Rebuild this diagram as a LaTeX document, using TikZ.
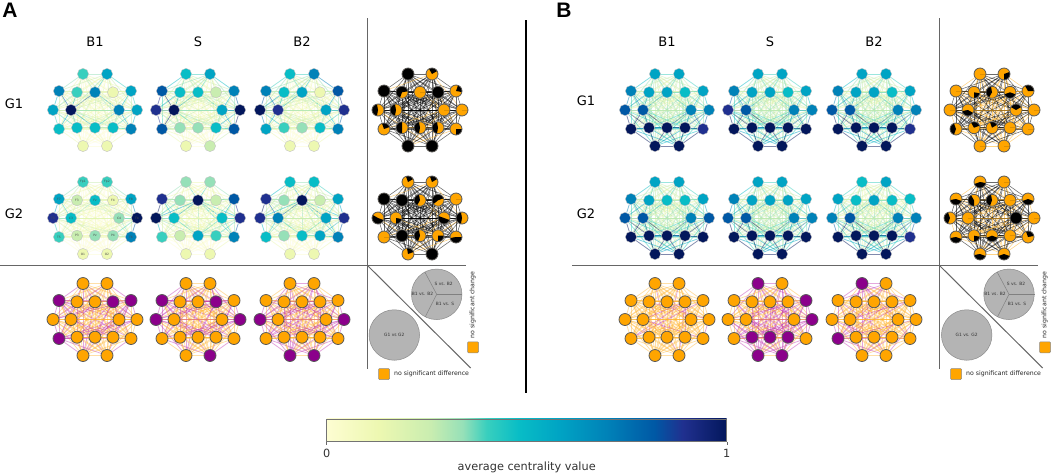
\documentclass[tikz,border=0pt]{standalone}
\usepackage{fontspec}
\setmainfont{DejaVu Sans}
\newfontfamily\hdfont{Liberation Sans}
\usetikzlibrary{backgrounds}
\definecolor{lev0}{HTML}{FDFDD2}
\definecolor{lev1}{HTML}{EDF8B1}
\definecolor{lev2}{HTML}{C9EDB0}
\definecolor{lev3}{HTML}{96E0B8}
\definecolor{lev4}{HTML}{38CFBE}
\definecolor{lev5}{HTML}{08BDC6}
\definecolor{lev6}{HTML}{00A4C4}
\definecolor{lev7}{HTML}{0082B8}
\definecolor{lev8}{HTML}{0058A5}
\definecolor{lev9}{HTML}{20308F}
\definecolor{lev10}{HTML}{03175C}
\definecolor{nodeO}{HTML}{FFA500}
\definecolor{nodeP}{HTML}{8B008B}
\definecolor{edgeO}{HTML}{FFB52E}
\definecolor{edgeP}{HTML}{C030B0}
\definecolor{rulegray}{HTML}{666666}
\definecolor{diskgray}{HTML}{B4B4B4}
\foreach \xx/\yy [count=\n] in {-120/-360,120/-360,-360/-190,-180/-177,0/-177,180/-177,360/-190,-420/0,-240/0,240/0,420/0,-360/190,-180/177,0/177,180/177,360/190,-120/360,120/360}{%
  \expandafter\xdef\csname xo\n\endcsname{\xx}%
  \expandafter\xdef\csname yo\n\endcsname{\yy}%
}
\tikzset{
  heatnode/.style={circle,inner sep=0pt,minimum size=11.2pt,draw=black!25,line width=.35pt},
  ornode/.style={circle,inner sep=0pt,minimum size=12pt,draw=black!65,line width=.8pt},
  heatedge/.style={line width=.75pt,opacity=.5},
  binedge/.style={line width=.55pt,opacity=.58},
  chanedge/.style={line width=.8pt,opacity=.42},
  rulegrayline/.style={draw=rulegray,line width=1pt},
  tinylab/.style={inner sep=0pt,font=\fontsize{3}{3}\selectfont,text=black!70},
  disk/.style={circle,draw=black!45,fill=diskgray,line width=.5pt,inner sep=0pt,minimum size=50.5pt},
  disklab/.style={inner sep=0pt,font=\fontsize{4.4}{5}\selectfont,text=black!80},
  colhead/.style={inner sep=0pt,font=\fontsize{13}{15}\selectfont},
  panelhead/.style={inner sep=0pt,font=\hdfont\bfseries\fontsize{21}{23}\selectfont},
  keybox/.style={draw=black!45,fill=nodeO,rounded corners=1pt,line width=.5pt,minimum size=11pt,inner sep=0pt},
  keylab/.style={inner sep=0pt,font=\fontsize{6.2}{7}\selectfont,text=black!85},
  cbarlab/.style={inner sep=0pt,font=\fontsize{11.3}{13}\selectfont,text=black!80},
}
\newcommand\jstart[1]{\the\numexpr#1+1\relax}
\newcommand\distsq[2]{\the\numexpr(\csname xo#1\endcsname-\csname xo#2\endcsname)*(\csname xo#1\endcsname-\csname xo#2\endcsname)+(\csname yo#1\endcsname-\csname yo#2\endcsname)*(\csname yo#1\endcsname-\csname yo#2\endcsname)\relax}
% heat network: name, cx, cy, 18 levels
\newcommand\heatnet[4]{%
  \foreach \vv [count=\n] in {#4}{%
    \node[heatnode,fill=lev\vv] (#1n\n) at ({#2+\csname xo\n\endcsname/10},{#3+\csname yo\n\endcsname/10}) {};
    \expandafter\xdef\csname val#1\n\endcsname{\vv}%
  }
  \begin{scope}[on background layer]
  \foreach \i in {1,...,17}{%
    \edef\jf{\jstart{\i}}%
    \foreach \j in {\jf,...,18}{%
      \edef\dd{\distsq{\i}{\j}}%
      \ifnum\dd<90000 \def\kk{120}\else\ifnum\dd<302500 \def\kk{55}\else\def\kk{28}\fi\fi
      \edef\lv{\the\numexpr\csname val#1\i\endcsname*\csname val#1\j\endcsname*\kk/1000\relax}%
      \ifnum\lv>10 \def\lv{10}\fi
      \draw[heatedge,draw=lev\lv] (#1n\i) -- (#1n\j);
    }%
  }
  \end{scope}
}
% pie network: name, cx, cy, percent black edges, wedges
\newcommand\pienet[5]{%
  \foreach \aa/\bb [count=\n] in {#5}{%
    \node[ornode,fill=nodeO,path picture={\fill[black] (path picture bounding box.center) -- +(\aa:7pt) arc[start angle=\aa,end angle=\bb,radius=7pt] -- cycle;}] (#1n\n) at ({#2+\csname xo\n\endcsname/10},{#3+\csname yo\n\endcsname/10}) {};
  }
  \begin{scope}[on background layer]
  \foreach \i in {1,...,17}{%
    \edef\jf{\jstart{\i}}%
    \foreach \j in {\jf,...,18}{%
      \pgfmathtruncatemacro\rr{mod(\i*\i*7+\j*31+\i*\j*3+#2*3,100)}%
      \ifnum\rr<#4 \def\ec{black}\else\def\ec{edgeO}\fi
      \draw[binedge,draw=\ec] (#1n\i) -- (#1n\j);
    }%
  }
  \end{scope}
}
% change network: name, cx, cy, percent random magenta edges, O/P letters
\newcommand\chnet[5]{%
  \foreach \vv [count=\n] in {#5}{%
    \node[ornode,fill=node\vv] (#1n\n) at ({#2+\csname xo\n\endcsname/10},{#3+\csname yo\n\endcsname/10}) {};
    \expandafter\xdef\csname val#1\n\endcsname{\vv}%
  }
  \begin{scope}[on background layer]
  \foreach \i in {1,...,17}{%
    \edef\jf{\jstart{\i}}%
    \foreach \j in {\jf,...,18}{%
      \pgfmathtruncatemacro\rr{mod(\i*\i*11+\j*37+\i*\j*5+#2*3,100)}%
      \def\ec{edgeO}%
      \ifnum\rr<#4 \def\ec{edgeP}\fi
      \if P\csname val#1\i\endcsname \ifnum\rr<60 \def\ec{edgeP}\fi\fi
      \if P\csname val#1\j\endcsname \ifnum\rr<60 \def\ec{edgeP}\fi\fi
      \draw[chanedge,draw=\ec] (#1n\i) -- (#1n\j);
    }%
  }
  \end{scope}
}
\pgfdeclarehorizontalshading{cbarshade}{100bp}{
  color(0bp)=(lev0); color(25bp)=(lev0); color(31.5bp)=(lev1); color(38bp)=(lev2);
  color(42bp)=(lev3); color(45bp)=(lev4); color(49bp)=(lev5); color(54bp)=(lev6);
  color(60bp)=(lev7); color(66bp)=(lev8); color(69.5bp)=(lev9); color(75bp)=(lev10); color(100bp)=(lev10)}
\begin{document}
\begin{tikzpicture}[x=1pt,y=-1pt]
\useasboundingbox (0,0) rectangle (1052,475);
\begin{scope}[on background layer]
\fill[white] (0,0) rectangle (1052,475);
\end{scope}
% panel letters and headers
\node[panelhead] (la) at (10,10) {A};
\node[panelhead] (lb) at (564,10) {B};
\foreach \xc/\t/\s in {95/B1/a,198/S/b,302/B2/c,667/B1/d,770/S/e,874/B2/f}{\node[colhead] (h\s) at (\xc,42) {\t};}
\node[colhead] (ga1) at (14,104) {G1};
\node[colhead] (ga2) at (14,214) {G2};
\node[colhead] (gb1) at (586,101) {G1};
\node[colhead] (gb2) at (586,214) {G2};
% heat networks
\heatnet{Aa}{95}{110}{4,6,7,4,7,1,6,6,10,7,6,5,5,5,5,7,1,1}
\heatnet{Ab}{198}{110}{5,6,8,5,5,2,7,9,10,6,10,8,3,3,5,8,1,2}
\heatnet{Ac}{302}{110}{5,7,7,5,6,1,8,10,9,6,9,6,4,3,5,7,1,1}
\heatnet{Ad}{95}{218}{4,4,6,2,5,1,6,9,5,3,10,4,2,3,3,7,1,1}
\heatnet{Ae}{198}{218}{3,3,9,3,10,2,8,10,5,5,9,4,2,6,4,7,1,1}
\heatnet{Af}{302}{218}{5,5,9,3,10,2,6,9,7,6,9,5,3,5,6,7,1,1}
\heatnet{Ba}{667}{110}{6,6,7,6,6,5,6,8,8,7,7,10,10,10,10,9,10,10}
\heatnet{Bb}{770}{110}{6,6,7,6,6,5,6,9,8,7,7,10,10,10,10,10,10,10}
\heatnet{Bc}{874}{110}{6,6,7,6,6,5,6,8,8,7,7,10,10,10,10,9,10,10}
\heatnet{Bd}{667}{218}{6,6,7,6,5,5,6,8,8,7,8,10,10,10,10,10,10,10}
\heatnet{Be}{770}{218}{6,6,7,6,6,6,6,8,8,7,7,10,10,10,10,10,10,10}
\heatnet{Bf}{874}{218}{5,6,6,5,6,5,5,7,8,7,7,10,10,10,10,9,10,10}
% electrode labels
\foreach \t [count=\n] in {Fp1,Fp2,F7,F3,Fz,F4,F8,T3,C3,C4,T4,T5,P3,Pz,P4,T6,O1,O2}{\node[tinylab] (el\n) at (Adn\n.center) {\t};}
% pie networks
\pienet{Ag}{420}{110}{90}{0/360,30/120,0/360,10/250,0/0,0/360,-10/70,100/260,100/260,0/0,0/0,20/110,90/270,100/260,100/260,270/360,0/360,0/360}
\pienet{Aj}{420}{218}{90}{30/110,30/110,0/360,0/360,100/240,20/220,0/0,150/340,270/350,160/340,100/260,0/0,0/360,100/250,270/360,190/360,20/100,0/360}
\pienet{Bg}{992}{110}{60}{0/0,270/380,0/0,270/350,100/240,200/340,0/120,0/0,190/330,30/150,0/0,110/250,20/120,30/110,0/0,0/0,0/0,0/0}
\pienet{Bj}{992}{218}{68}{200/350,0/0,190/340,120/270,100/250,0/0,200/340,110/250,0/0,0/360,0/0,190/340,270/350,200/340,0/0,10/110,190/340,200/340}
% change networks
\chnet{Ak}{95}{319.5}{15}{O,O,P,O,O,P,P,O,O,O,O,P,O,O,O,O,O,O}
\chnet{Al}{198}{319.5}{26}{O,O,P,O,O,P,O,P,O,O,P,O,O,O,O,O,O,P}
\chnet{Am}{302}{319.5}{26}{O,O,O,O,O,O,O,P,O,O,P,O,O,O,O,O,P,P}
\chnet{Bk}{667}{319.5}{6}{O,O,O,O,O,O,O,O,O,O,O,O,O,O,O,O,O,O}
\chnet{Bl}{770}{319.5}{20}{P,O,O,O,O,O,P,O,O,O,P,O,P,P,P,O,P,P}
\chnet{Bm}{874}{319.5}{10}{P,O,O,O,O,O,O,O,O,O,O,P,O,O,O,O,O,O}
% rules
\coordinate (ra0) at (0,265); \coordinate (ra1) at (466,265);
\coordinate (va0) at (367,18); \coordinate (va1) at (367,369);
\coordinate (da0) at (367,265); \coordinate (da1) at (470.7,368);
\coordinate (rb0) at (572,265); \coordinate (rb1) at (1038,265);
\coordinate (vb0) at (939,18); \coordinate (vb1) at (939,369);
\coordinate (db0) at (939,265); \coordinate (db1) at (1042.7,368);
\coordinate (mid0) at (526,20); \coordinate (mid1) at (526,393);
\draw[rulegrayline] (ra0) -- (ra1);
\draw[rulegrayline] (va0) -- (va1);
\draw[rulegrayline] (da0) -- (da1);
\draw[rulegrayline] (rb0) -- (rb1);
\draw[rulegrayline] (vb0) -- (vb1);
\draw[rulegrayline] (db0) -- (db1);
\draw[black,line width=2pt] (mid0) -- (mid1);
% disks A
\node[disk] (dka) at (436.7,294.3) {};
\draw[draw=black!50,line width=.5pt] (dka.center) -- (dka.118);
\draw[draw=black!50,line width=.5pt] (dka.center) -- (dka.0);
\draw[draw=black!50,line width=.5pt] (dka.center) -- (dka.243);
\node[disklab] (ta1) at (443.7,284) {S vs. B2};
\node[disklab] (ta2) at (422.5,294.3) {B1 vs. B2};
\node[disklab] (ta3) at (445,304.3) {B1 vs. S};
\node[disk] (dkc) at (394.3,335) {};
\node[disklab] (ta4) at (394.3,335) {G1 vs G2};
\node[keybox] (ka1) at (473,347.3) {};
\node[keylab,rotate=90] (ka2) at (472.7,305) {no significant change};
\node[keybox] (ka3) at (384,374) {};
\node[keylab,anchor=west] (ka4) at (394,373.5) {no significant difference};
% disks B
\node[disk] (dkb) at (1009,294.3) {};
\draw[draw=black!50,line width=.5pt] (dkb.center) -- (dkb.118);
\draw[draw=black!50,line width=.5pt] (dkb.center) -- (dkb.0);
\draw[draw=black!50,line width=.5pt] (dkb.center) -- (dkb.243);
\node[disklab] (tb1) at (1016,284) {S vs. B2};
\node[disklab] (tb2) at (995,294.3) {B1 vs. B2};
\node[disklab] (tb3) at (1017,304.3) {B1 vs. S};
\node[disk] (dkd) at (966.7,335) {};
\node[disklab] (tb4) at (966.7,335) {G1 vs. G2};
\node[keybox] (kb1) at (1045,347.3) {};
\node[keylab,rotate=90] (kb2) at (1044.7,305) {no significant change};
\node[keybox] (kb3) at (956,374) {};
\node[keylab,anchor=west] (kb4) at (966,373.5) {no significant difference};
% colour bar
\node[draw=black!55,line width=.8pt,shading=cbarshade,minimum width=400pt,minimum height=22.7pt,inner sep=0pt] (cbar) at (526.7,430.3) {};
\coordinate (tick0) at ([yshift=-3pt]cbar.south west);
\coordinate (tick1) at ([yshift=-3pt]cbar.south east);
\draw[draw=black!60,line width=.6pt] (cbar.south west) -- (tick0);
\draw[draw=black!60,line width=.6pt] (cbar.south east) -- (tick1);
\node[cbarlab] (cb0) at (326.7,453) {0};
\node[cbarlab] (cb1) at (726.7,453) {1};
\node[cbarlab] (cbt) at (526.7,467) {average centrality value};
\end{tikzpicture}
\end{document}
